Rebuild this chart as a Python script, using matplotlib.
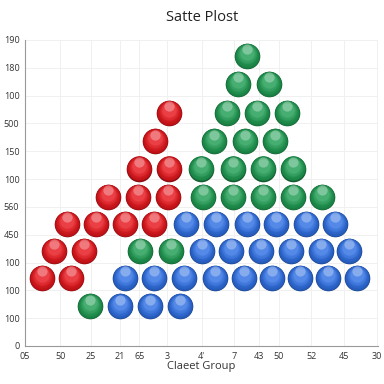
import matplotlib
matplotlib.use('Agg')
import matplotlib.pyplot as plt
from matplotlib.colors import to_rgb
from matplotlib.transforms import offset_copy
import numpy as np

plt.rcParams['font.family'] = ['Open Sans', 'DejaVu Sans']

# ball positions (axis units)
red_x = [40.2, 36.3, 31.7, 40.2, 22.7, 31.4, 39.9, 11.0, 19.3, 27.5, 36.0, 7.4, 15.9, 4.0, 12.2]
red_y = [8.38, 7.37, 6.37, 6.37, 5.36, 5.36, 5.36, 4.39, 4.39, 4.39, 4.39, 3.42, 3.42, 2.45, 2.45]

green_x = [17.6, 32.0, 40.8, 62.6, 60.1, 68.8, 56.9, 65.4, 73.9, 53.0, 62.0, 70.5,
           49.3, 58.4, 67.1, 75.6, 49.9, 58.6, 67.1, 75.6, 83.9]
green_y = [1.44, 3.42, 3.42, 10.43, 9.42, 9.42, 8.38, 8.38, 8.38, 7.37, 7.37, 7.37,
           6.37, 6.37, 6.37, 6.37, 5.36, 5.36, 5.36, 5.36, 5.36]

blue_x = [45.0, 53.8, 62.6, 70.8, 79.3, 87.8,
          49.6, 58.1, 66.6, 75.1, 83.6, 91.8,
          27.5, 36.0, 44.5, 53.3, 61.8, 69.7, 77.6, 85.6, 94.1,
          26.1, 34.8, 43.3]
blue_y = [4.39] * 6 + [3.42] * 6 + [2.45] * 9 + [1.44] * 3

x_ticks = [-1.0, 9.1, 17.8, 26.1, 31.7, 39.7, 49.6, 58.9, 66.0, 71.7, 81.0, 90.4, 99.7]
x_labels = ['05', '50', '25', '21', '65', '3', "4'", '7', '43', '50', '52', '45', '30']
y_ticks = list(range(12))
y_labels = ['0', '100', '100', '100', '450', '560', '100', '150', '500', '100', '180', '190']

fig = plt.figure(figsize=(3.84, 3.84), dpi=100)
ax = fig.add_axes([0.065, 0.099, 0.919, 0.797])

S = 340
R = np.sqrt(S) / 2


def draw_balls(xs, ys, color):
    base = np.array(to_rgb(color))
    ax.scatter(xs, ys, s=S, color=base * 0.6, linewidths=0, zorder=3)
    for i in range(8):
        f = i / 7
        frac = 0.92 - 0.09 * i
        r_i = R * np.sqrt(frac)
        c = np.clip(base * (0.82 + 0.18 * f) + (1 - base) * 0.18 * f ** 2, 0, 1)
        tr = offset_copy(ax.transData, fig=fig, x=0, y=0.55 * (R - r_i), units='points')
        ax.scatter(xs, ys, s=S * frac, color=c, linewidths=0,
                   transform=tr, zorder=4)
    tr = offset_copy(ax.transData, fig=fig, x=0, y=0.5 * R, units='points')
    ax.scatter(xs, ys, s=S * 0.16, color='white', alpha=0.3, linewidths=0,
               transform=tr, zorder=5)


draw_balls(red_x, red_y, '#e5161c')
draw_balls(green_x, green_y, '#1f9c52')
draw_balls(blue_x, blue_y, '#2e6fe3')

ax.set_xlim(0, 100)
ax.set_ylim(0, 11)
ax.set_xticks(x_ticks)
ax.set_xticklabels(x_labels)
ax.set_yticks(y_ticks)
ax.set_yticklabels(y_labels)
ax.tick_params(length=0, labelsize=6.5, colors='#333333', pad=4)
ax.grid(True, color='#f0f0f0', linewidth=0.7)
ax.set_axisbelow(True)
for side in ['top', 'right']:
    ax.spines[side].set_visible(False)
for side in ['left', 'bottom']:
    ax.spines[side].set_color('#999999')
    ax.spines[side].set_linewidth(0.8)

ax.set_xlabel('Claeet Group', fontsize=8, color='#333333', labelpad=0)
fig.text(0.527, 0.955, 'Satte Plost', fontsize=10.5, ha='center', va='center',
         color='#222222', weight='medium')

fig.savefig('out.png', dpi=100)
